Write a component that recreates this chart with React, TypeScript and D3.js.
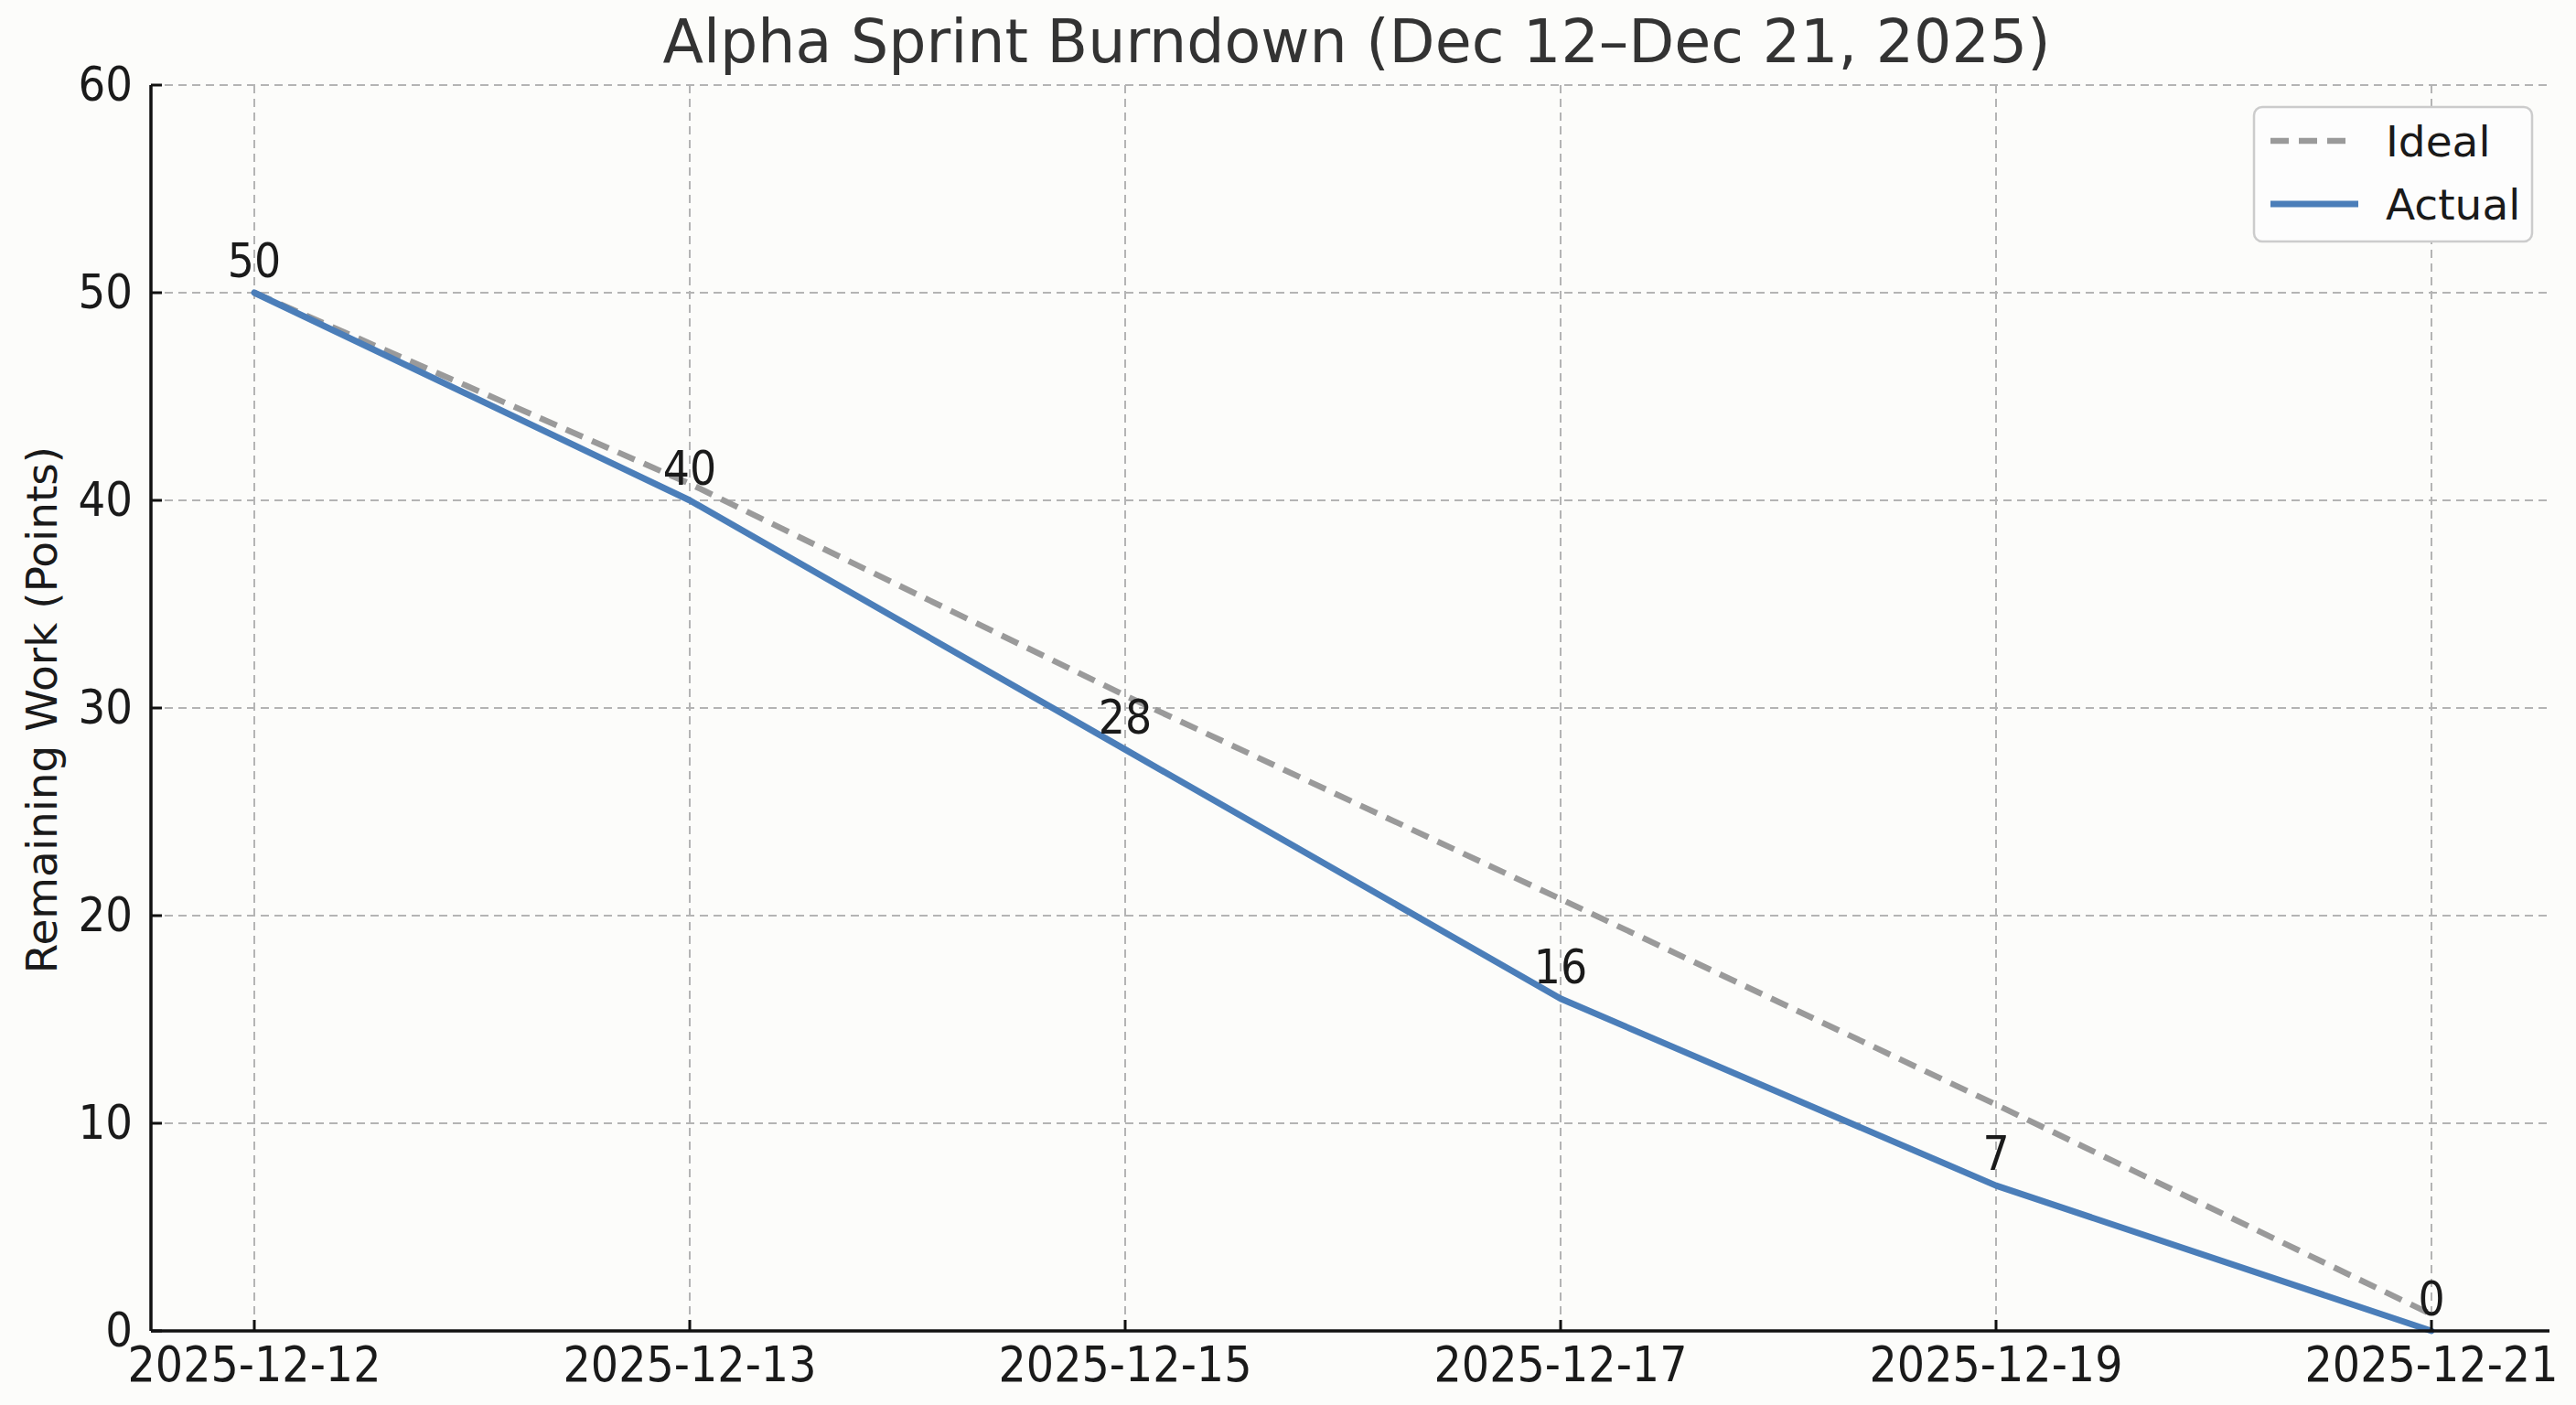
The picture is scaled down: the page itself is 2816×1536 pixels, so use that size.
import React from "react";
import * as d3 from "d3";

const dates = ["2025-12-12", "2025-12-13", "2025-12-15", "2025-12-17", "2025-12-19", "2025-12-21"];
const idealValues = [50, 40.8, 30.6, 20.8, 10.9, 0.8];
const actualValues = [50, 40, 28, 16, 7, 0];
const yTicks = [0, 10, 20, 30, 40, 50, 60];
const title = "Alpha Sprint Burndown (Dec 12–Dec 21, 2025)";
const yLabel = "Remaining Work (Points)";
const seriesNames = ["Ideal", "Actual"];

const W = 2816;
const H = 1536;
const left = 165;
const right = 2787;
const top = 93;
const bottom = 1455;
const FONT = "'DejaVu Sans', sans-serif";

export default function App() {
  const x = d3.scalePoint<string>().domain(dates).range([278, 2658]);
  const y = d3.scaleLinear().domain([0, 60]).range([bottom, top]);
  const line = d3
    .line<number>()
    .x((_, i) => x(dates[i]) as number)
    .y((d) => y(d));
  const textColor = "#1a1a1a";
  return (
    <svg width={W} height={H} style={{ position: "absolute", left: 0, top: 0, background: "#fcfcfa" }}>
      <rect x={0} y={0} width={W} height={H} fill="#fcfcfa" />
      {/* grid */}
      {yTicks.map((t) => (
        <line key={"gy" + t} x1={left} x2={right} y1={y(t)} y2={y(t)} stroke="#b4b4b4" strokeWidth={2} strokeDasharray="9,6" />
      ))}
      {dates.map((d) => (
        <line key={"gx" + d} x1={x(d)} x2={x(d)} y1={top} y2={bottom} stroke="#b4b4b4" strokeWidth={2} strokeDasharray="9,6" />
      ))}
      {/* lines */}
      <path d={line(idealValues) || ""} fill="none" stroke="#9a9a9a" strokeWidth={6.5} strokeDasharray="20,11" />
      <path d={line(actualValues) || ""} fill="none" stroke="#4b7eb9" strokeWidth={7} strokeLinejoin="round" strokeLinecap="round" />
      {/* data labels */}
      {actualValues.map((v, i) => (
        <text key={"dl" + i} x={x(dates[i])} y={y(v) - 17} textAnchor="middle" fontFamily={FONT} fontStretch="condensed" fontSize={51} fill={textColor}>
          {v}
        </text>
      ))}
      {/* axes */}
      <line x1={left} x2={left} y1={top} y2={bottom} stroke="#111" strokeWidth={3.5} />
      <line x1={left} x2={right} y1={bottom} y2={bottom} stroke="#111" strokeWidth={3.5} />
      {yTicks.map((t) => (
        <g key={"yt" + t}>
          <line x1={left} x2={left + 12} y1={y(t)} y2={y(t)} stroke="#111" strokeWidth={3} />
          <text x={145} y={y(t)} dy="0.33em" textAnchor="end" fontFamily={FONT} fontStretch="condensed" fontSize={52} fill={textColor}>
            {t}
          </text>
        </g>
      ))}
      {dates.map((d) => (
        <g key={"xt" + d}>
          <line x1={x(d)} x2={x(d)} y1={bottom} y2={bottom - 12} stroke="#111" strokeWidth={3} />
          <text x={x(d)} y={1510} textAnchor="middle" fontFamily={FONT} fontStretch="condensed" fontSize={53} fill={textColor}>
            {d}
          </text>
        </g>
      ))}
      {/* title */}
      <text x={1483} y={68} textAnchor="middle" fontFamily={FONT} fontSize={65} fill="#333">
        {title}
      </text>
      {/* y label */}
      <text transform={`translate(46, ${(top + bottom) / 2 + 2}) rotate(-90)`} textAnchor="middle" dy="0.35em" fontFamily={FONT} fontSize={47} fill={textColor}>
        {yLabel}
      </text>
      {/* legend */}
      <rect x={2464} y={117} width={304} height={147} rx={9} fill="#fdfdfd" stroke="#cccccc" strokeWidth={2.5} />
      <line x1={2482} x2={2574} y1={154} y2={154} stroke="#9a9a9a" strokeWidth={6.5} strokeDasharray="20,11" />
      <line x1={2482} x2={2578} y1={223} y2={223} stroke="#4b7eb9" strokeWidth={7} />
      <text x={2608} y={154} dy="0.36em" fontFamily={FONT} fontSize={47} fill={textColor}>
        {seriesNames[0]}
      </text>
      <text x={2608} y={223} dy="0.36em" fontFamily={FONT} fontSize={47} fill={textColor}>
        {seriesNames[1]}
      </text>
    </svg>
  );
}
